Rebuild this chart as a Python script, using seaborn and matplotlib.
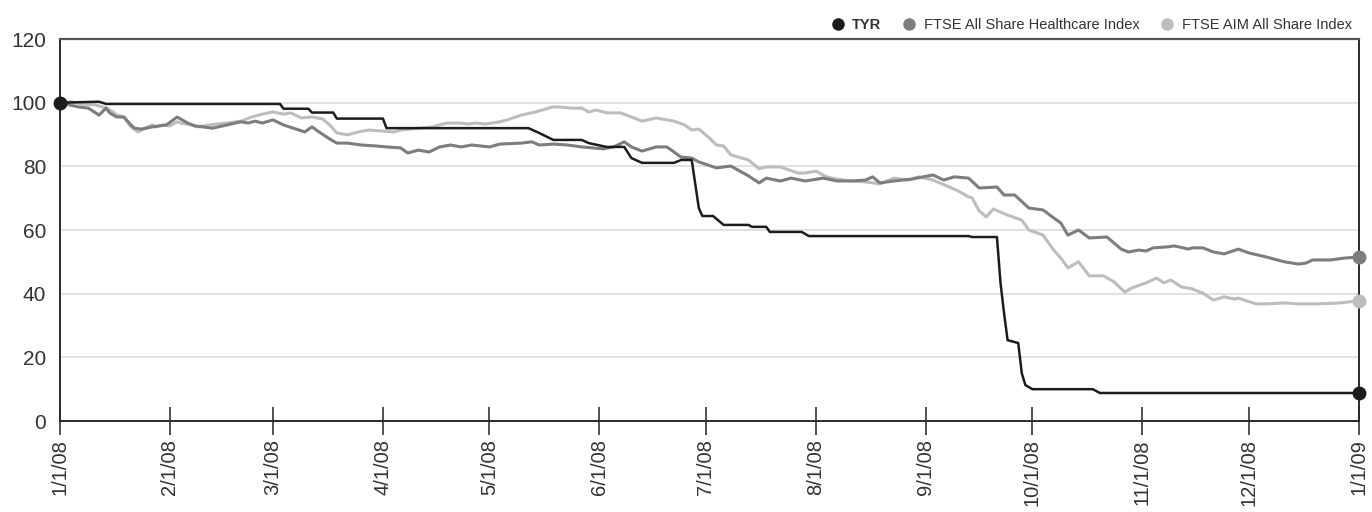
import seaborn as sns
import matplotlib.pyplot as plt
import pandas as pd
from matplotlib.lines import Line2D

# Day offsets from 1/1/08 and index values
tyr_days = [0, 11, 13, 62, 63, 70, 71, 77, 78, 91, 92, 132, 135, 139, 147, 149, 154, 159,
            161, 164, 173, 175, 178, 180, 181, 184, 187, 194, 195, 199, 200, 209, 211, 256,
            257, 264, 265, 266, 267, 270, 271, 272, 274, 291, 293, 366]
tyr_vals = [100, 100.3, 99.6, 99.6, 98.1, 98.1, 96.9, 96.9, 95.0, 95.0, 92.0, 92.0, 90.5,
            88.3, 88.3, 87.3, 86.1, 86.1, 82.6, 81.1, 81.1, 82.0, 82.0, 66.9, 64.4, 64.4,
            61.6, 61.6, 61.0, 61.0, 59.4, 59.4, 58.1, 58.1, 57.8, 57.8, 43.4, 33.9, 25.4,
            24.5, 15.0, 11.3, 10.0, 10.0, 8.8, 8.8]

hc_days = [0, 5, 8, 11, 13, 14, 16, 18, 20, 21, 23, 26, 30, 33, 36, 38, 43, 47, 51, 53, 55,
           57, 60, 63, 69, 71, 73, 76, 78, 81, 85, 89, 92, 96, 98, 101, 104, 107, 110, 113,
           116, 121, 124, 130, 133, 135, 139, 143, 147, 150, 153, 156, 159, 161, 164, 168,
           171, 175, 178, 180, 185, 189, 194, 197, 199, 203, 206, 210, 215, 219, 223, 227,
           229, 231, 235, 240, 246, 249, 252, 256, 259, 264, 266, 269, 273, 277, 280, 282,
           284, 287, 290, 295, 299, 301, 304, 306, 308, 312, 314, 318, 319, 322, 325, 328,
           332, 335, 340, 345, 349, 351, 353, 358, 362, 366]
hc_vals = [100, 98.7, 98.3, 96.1, 98.3, 96.8, 95.5, 95.5, 93.0, 92.0, 91.7, 92.4, 93.0, 95.5,
           93.6, 92.7, 92.0, 93.0, 94.0, 93.6, 94.2, 93.6, 94.6, 93.0, 90.8, 92.4, 90.8, 88.6,
           87.3, 87.3, 86.7, 86.4, 86.1, 85.8, 84.2, 85.1, 84.5, 86.1, 86.7, 86.1, 86.7, 86.1,
           87.0, 87.3, 87.7, 86.7, 87.0, 86.7, 86.1, 85.8, 85.5, 86.1, 87.7, 86.1, 84.8, 86.1,
           86.1, 82.9, 82.6, 81.4, 79.5, 80.1, 77.0, 74.8, 76.3, 75.4, 76.3, 75.4, 76.3, 75.4,
           75.4, 75.7, 76.7, 74.8, 75.4, 76.0, 77.3, 75.7, 76.7, 76.3, 73.2, 73.5, 71.0, 71.0,
           66.9, 66.3, 63.8, 62.2, 58.4, 60.0, 57.5, 57.8, 54.0, 53.1, 53.7, 53.4, 54.4, 54.7,
           55.0, 54.0, 54.4, 54.4, 53.1, 52.5, 54.0, 52.8, 51.5, 50.0, 49.3, 49.6, 50.6, 50.6,
           51.2, 51.5]

aim_days = [0, 3, 6, 10, 13, 15, 16, 18, 20, 22, 24, 26, 27, 29, 31, 33, 34, 37, 39, 44, 47,
            51, 54, 57, 60, 63, 65, 68, 71, 74, 76, 78, 81, 84, 87, 91, 94, 96, 101, 105, 109,
            113, 115, 117, 120, 124, 126, 130, 134, 139, 141, 144, 147, 149, 151, 154, 158,
            161, 164, 168, 173, 176, 178, 180, 183, 185, 187, 189, 194, 197, 199, 203, 208,
            210, 213, 216, 219, 223, 227, 231, 235, 239, 242, 246, 250, 253, 256, 257, 259,
            261, 263, 267, 271, 273, 277, 280, 282, 284, 287, 290, 294, 297, 300, 302, 306,
            309, 311, 313, 316, 319, 322, 325, 328, 331, 332, 337, 340, 345, 349, 354, 361,
            363, 366]
aim_vals = [100, 100.3, 99.6, 99.3, 98.3, 97.1, 96.1, 95.5, 92.4, 90.8, 92.0, 93.0, 92.4, 93.0,
            92.7, 94.0, 93.6, 93.0, 92.4, 93.3, 93.6, 94.2, 95.5, 96.4, 97.1, 96.4, 96.8, 95.2,
            95.5, 94.9, 93.0, 90.5, 89.9, 90.8, 91.4, 91.1, 90.8, 91.4, 92.0, 92.4, 93.6, 93.6,
            93.3, 93.6, 93.3, 94.0, 94.6, 96.1, 97.1, 98.7, 98.6, 98.3, 98.3, 97.1, 97.7, 96.8,
            96.8, 95.5, 94.2, 95.2, 94.2, 93.0, 91.4, 91.7, 88.9, 86.7, 86.4, 83.6, 82.0, 79.2,
            79.8, 79.8, 77.9, 77.9, 78.5, 76.7, 76.0, 75.4, 75.1, 74.5, 76.3, 75.7, 76.7, 75.7,
            73.8, 72.3, 70.4, 70.1, 66.0, 64.1, 66.6, 64.7, 63.1, 60.0, 58.4, 53.7, 51.2, 48.1,
            50.0, 45.6, 45.6, 43.7, 40.5, 41.8, 43.4, 44.9, 43.4, 44.3, 42.1, 41.5, 40.2, 38.0,
            39.0, 38.3, 38.6, 36.8, 36.8, 37.1, 36.8, 36.8, 37.1, 37.4, 37.7]

series_names = ['TYR', 'FTSE All Share Healthcare Index', 'FTSE AIM All Share Index']
series_colors = ['#1c1c1c', '#7d7d7d', '#bdbdbd']
y_ticks = [0, 20, 40, 60, 80, 100, 120]

start = pd.Timestamp('2008-01-01')


def make_frame(days, vals, name):
    return pd.DataFrame({'date': start + pd.to_timedelta(days, unit='D'),
                         'value': vals, 'series': name})


df = pd.concat([make_frame(tyr_days, tyr_vals, series_names[0]),
                make_frame(hc_days, hc_vals, series_names[1]),
                make_frame(aim_days, aim_vals, series_names[2])], ignore_index=True)

sns.set_style('white')
plt.rcParams['font.family'] = ['Liberation Sans', 'DejaVu Sans']

fig = plt.figure(figsize=(13.72, 5.12), dpi=100)
ax = fig.add_axes([0.0437, 0.1777, 0.9468, 0.7461])

ax.yaxis.grid(True, color='#dcdcdc', linewidth=1.2)
ax.set_axisbelow(True)

# draw light series first so TYR sits on top
for name, color, lw in zip(series_names[::-1], series_colors[::-1], [2.2, 2.2, 1.8]):
    sub = df[df['series'] == name]
    sns.lineplot(data=sub, x='date', y='value', color=color, linewidth=lw,
                 ax=ax, legend=False, estimator=None)
    last = sub.iloc[-1]
    ax.plot(last['date'], last['value'], 'o', color=color, markersize=9,
            clip_on=False, zorder=5)

first = df[df['series'] == 'TYR'].iloc[0]
ax.plot(first['date'], first['value'], 'o', color=series_colors[0], markersize=9,
        clip_on=False, zorder=5)

ax.set_xlim(start, pd.Timestamp('2009-01-01'))
ax.set_ylim(0, 120)
ax.set_yticks(y_ticks)
ax.set_yticklabels([str(t) for t in y_ticks], fontsize=15, color='#333333')

month_starts = pd.date_range('2008-01-01', '2009-01-01', freq='MS')
ax.set_xticks(month_starts)
ax.set_xticklabels([f'{d.month}/{d.day}/{d:%y}' for d in month_starts],
                   rotation=90, fontsize=14.5, color='#333333')
ax.tick_params(axis='x', bottom=True, direction='inout', length=20, width=1.2,
               color='#333333', pad=3)
ax.tick_params(axis='y', left=False, length=0, pad=10)
ax.set_xlabel('')
ax.set_ylabel('')

for side in ['left', 'right', 'bottom']:
    ax.spines[side].set_color('#2a2a2a')
    ax.spines[side].set_linewidth(1.4)
ax.spines['top'].set_color('#555555')
ax.spines['top'].set_linewidth(1.6)

handles = [Line2D([], [], marker='o', linestyle='', color=c, markersize=8)
           for c in series_colors]
leg = ax.legend(handles, series_names, loc='lower right', bbox_to_anchor=(1.0, 1.0),
                ncol=3, frameon=False, fontsize=10.5, handletextpad=0.0,
                columnspacing=0.9, borderaxespad=0.3, borderpad=0.2)
for txt in leg.get_texts():
    txt.set_color('#333333')
leg.get_texts()[0].set_fontweight('bold')

fig.savefig('out.png', dpi=100)
plt.close()
